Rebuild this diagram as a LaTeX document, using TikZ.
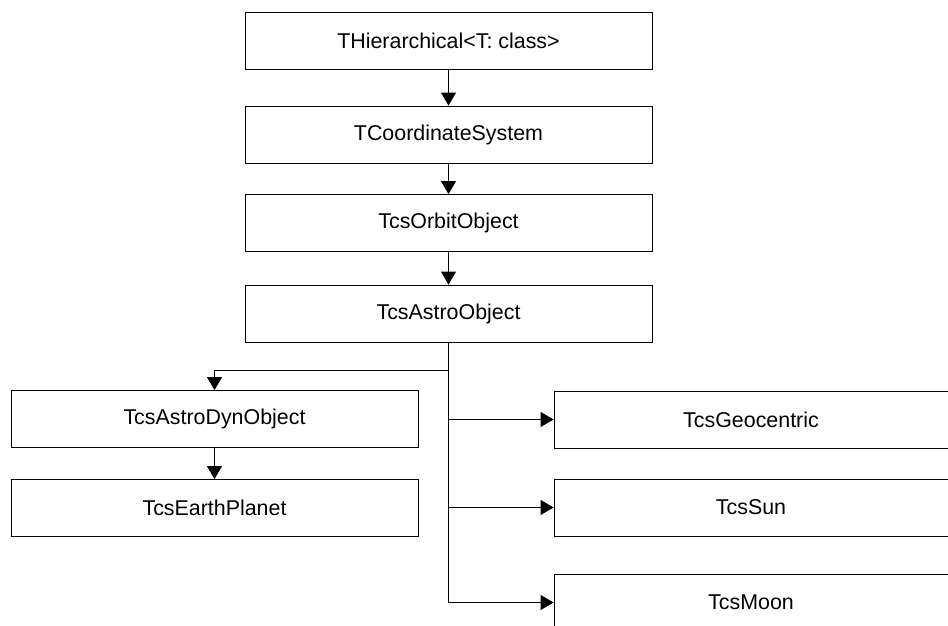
\documentclass[tikz,border=0pt]{standalone}
\usepackage{fontspec}
\setmainfont{Liberation Sans}
\usetikzlibrary{arrows.meta}
\begin{document}
\begin{tikzpicture}[x=1pt,y=-1pt,
  classbox/.style={draw=black,line width=0.9pt,rectangle,inner sep=0pt,
    minimum width=407pt,minimum height=57pt,font=\fontsize{21.4}{25}\selectfont},
  sidebox/.style={classbox,minimum width=394pt},
  inherit/.style={draw=black,line width=0.9pt,-{Triangle[length=13pt,width=15pt]}},
  link/.style={draw=black,line width=0.9pt}]
\useasboundingbox (0,0) rectangle (948,626);
\clip (0,0) rectangle (948,626);

% main inheritance chain
\node[classbox] (b1) at (448.5,40.5)  {THierarchical<T: class>};
\node[classbox] (b2) at (448.5,134.5) {TCoordinateSystem};
\node[classbox] (b3) at (448.5,223)   {TcsOrbitObject};
\node[classbox] (b4) at (448.5,313.5) {TcsAstroObject};

% descendants of TcsAstroObject
\node[classbox] (b5) at (214.5,419)   {TcsAstroDynObject};
\node[classbox] (b6) at (214.5,508)   {TcsEarthPlanet};
\node[sidebox]  (b7) at (751,419.5)   {TcsGeocentric};
\node[sidebox]  (b8) at (751,507.5)   {TcsSun};
\node[sidebox]  (b9) at (751,602.5)   {TcsMoon};

\draw[inherit] (b1.south) -- (b2.north);
\draw[inherit] (b2.south) -- (b3.north);
\draw[inherit] (b3.south) -- (b4.north);

% trunk below TcsAstroObject
\coordinate (split) at ([yshift=-28pt]b4.south);
\coordinate (tend) at (b4.south |- b9.west);
\draw[link] (b4.south) -- (tend);
\draw[inherit] (split) -| (b5.north);
\draw[inherit] (b5.south) -- (b6.north);
\draw[inherit] (b4.south |- b7.west) -- (b7.west);
\draw[inherit] (b4.south |- b8.west) -- (b8.west);
\draw[inherit] (tend) -- (b9.west);
\end{tikzpicture}
\end{document}
